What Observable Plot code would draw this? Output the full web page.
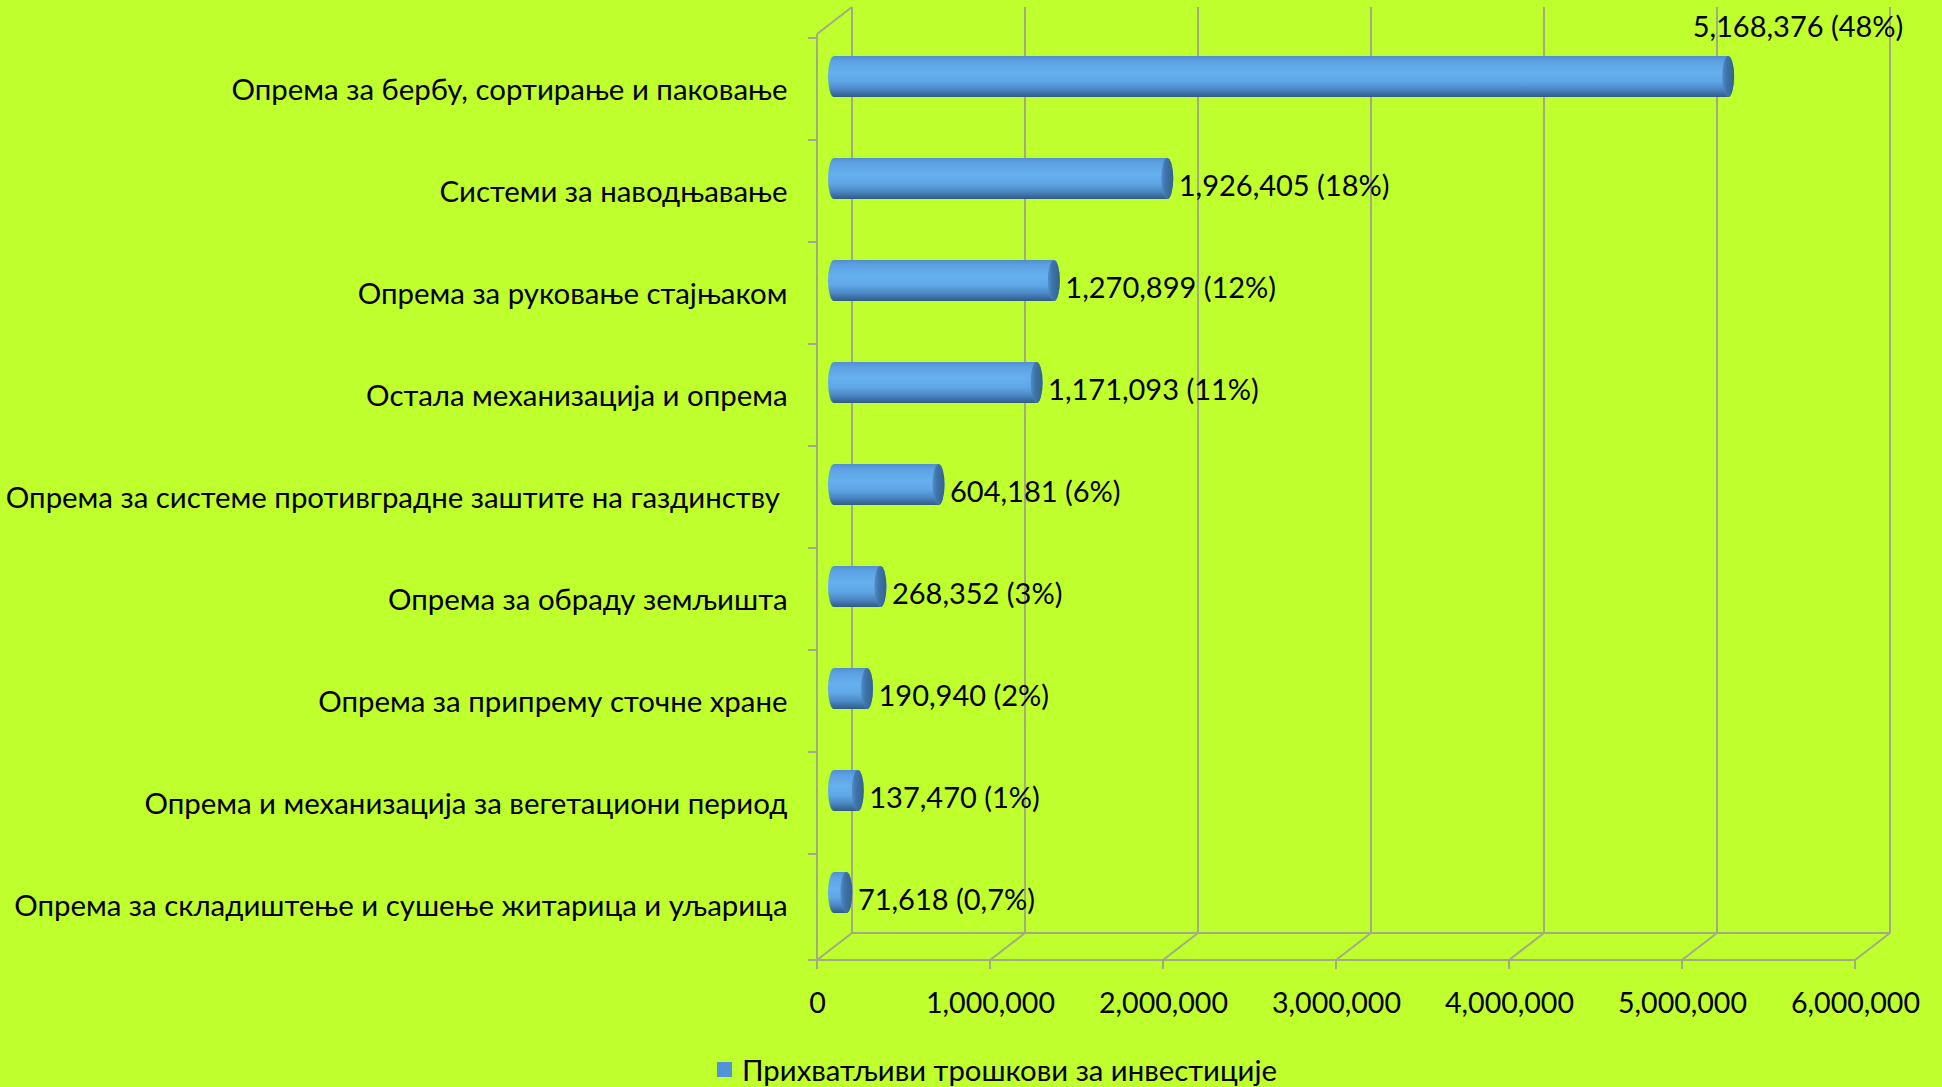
<!DOCTYPE html>
<html>
<head>
<meta charset="utf-8">
<script src="https://cdn.jsdelivr.net/npm/d3@7"></script>
<script src="https://cdn.jsdelivr.net/npm/@observablehq/plot@0.6"></script>
<style>
  html, body { margin: 0; padding: 0; background: #c0ff2e; }
  #chart { width: 1942px; height: 1087px; background: #c0ff2e; font-family: Lato, "Open Sans", sans-serif; }
  #chart svg { display: block; }
  #legend { height: 47px; display: flex; align-items: center; justify-content: center; font-size: 29.3px; color: #000; padding-left: 52px; padding-top: 12px; box-sizing: border-box; }
  #legend .sw { width: 15px; height: 15px; background: #4f94d8; margin-right: 10px; }
</style>
</head>
<body>
<div id="chart"></div>
<script>
const categories = [
  "Опрема за бербу, сортирање и паковање",
  "Системи за наводњавање",
  "Опрема за руковање стајњаком",
  "Остала механизација и опрема",
  "Опрема за системе противградне заштите на газдинству\u00a0",
  "Опрема за обраду земљишта",
  "Опрема за припрему сточне хране",
  "Опрема и механизација за вегетациони период",
  "Опрема за складиштење и сушење житарица и уљарица"
];
const values = [5168376, 1926405, 1270899, 1171093, 604181, 268352, 190940, 137470, 71618];
const shares = ["48%", "18%", "12%", "11%", "6%", "3%", "2%", "1%", "0,7%"];
const xTicks = [0, 1000000, 2000000, 3000000, 4000000, 5000000, 6000000];
const seriesName = "Прихватљиви трошкови за инвестиције";

const data = categories.map((c, i) => ({
  category: c,
  value: values[i],
  label: d3.format(",")(values[i]) + " (" + shares[i] + ")"
}));

const W = 1942, H = 1040;
const mLeft = 817, mRight = W - 1855, mTop = 34, mBottom = H - 960;
const DX = 35, DY = -27;      // depth of the 3D box
const BX = 17, BY = -12.5;    // bars sit half way into the box
const barH = 42;
const gridColor = "#a0ab86";

const defs = () => {
  const g = d3.create("svg:defs");
  const body = g.append("linearGradient").attr("id", "barBody").attr("x1", 0).attr("y1", 0).attr("x2", 0).attr("y2", 1);
  [[0, "#4f8fcf"], [0.12, "#5ca1e2"], [0.4, "#66b0f0"], [0.62, "#5fa6e6"], [0.82, "#4a86c2"], [1, "#2f5a85"]]
    .forEach(([o, c]) => body.append("stop").attr("offset", o).attr("stop-color", c));
  const cap = g.append("linearGradient").attr("id", "barCap").attr("x1", 0).attr("y1", 0).attr("x2", 1).attr("y2", 0);
  [[0, "#4f8fcb"], [0.35, "#3f75aa"], [1, "#34628f"]]
    .forEach(([o, c]) => cap.append("stop").attr("offset", o).attr("stop-color", c));
  return g.node();
};

const frame = (index, scales, values, dim) => {
  const x = scales.x, y = scales.y;
  const g = d3.create("svg:g").attr("stroke", gridColor).attr("stroke-width", 2).attr("fill", "none");
  const y0 = dim.marginTop, y1 = dim.height - dim.marginBottom;
  const x0 = x(0), xEnd = x(xTicks[xTicks.length - 1]);
  for (const t of xTicks) {
    const xt = x(t);
    g.append("line").attr("x1", xt + DX).attr("x2", xt + DX).attr("y1", y0 + DY).attr("y2", y1 + DY);
    g.append("line").attr("x1", xt).attr("x2", xt + DX).attr("y1", y1).attr("y2", y1 + DY);
    g.append("line").attr("x1", xt).attr("x2", xt).attr("y1", y1).attr("y2", y1 + 9);
  }
  g.append("line").attr("x1", x0).attr("x2", xEnd).attr("y1", y1).attr("y2", y1);
  g.append("line").attr("x1", x0 + DX).attr("x2", xEnd + DX).attr("y1", y1 + DY).attr("y2", y1 + DY);
  g.append("line").attr("x1", x0).attr("x2", x0).attr("y1", y0).attr("y2", y1);
  g.append("line").attr("x1", x0).attr("x2", x0 + DX).attr("y1", y0).attr("y2", y0 + DY);
  const bounds = categories.map(c => y(c)).concat([y1]);
  for (const b of bounds) g.append("line").attr("x1", x0 - 9).attr("x2", x0).attr("y1", b).attr("y2", b);
  return g.node();
};

const inset = (H - mTop - mBottom) / categories.length / 2 - barH / 2;

const chart = Plot.plot({
  width: W,
  height: H,
  marginLeft: mLeft,
  marginRight: mRight,
  marginTop: mTop,
  marginBottom: mBottom,
  style: { background: "#c0ff2e", fontFamily: "Lato, 'Open Sans', sans-serif", fontSize: "29px", color: "#000" },
  x: { domain: [0, 6000000], ticks: xTicks, tickFormat: d3.format(","), label: null },
  y: { domain: categories, padding: 0, label: null },
  marks: [
    defs,
    frame,
    Plot.axisX({ ticks: xTicks, tickFormat: d3.format(","), tickSize: 0, tickPadding: 32, fontSize: 28.6, fill: "#000", label: null }),
    Plot.axisY({ tickSize: 0, tickPadding: 30, fontSize: 29.4, fill: "#000", textAnchor: "end", dy: 1, label: null }),
    Plot.barX(data, {
      x1: () => 0, x2: "value", y: "category",
      insetTop: inset, insetBottom: inset, insetLeft: -6, insetRight: -6,
      dx: BX, dy: BY, rx: 6, ry: barH / 2, fill: "url(#barBody)"
    }),
    Plot.barX(data, {
      x1: "value", x2: "value", y: "category",
      insetTop: inset, insetBottom: inset, insetLeft: -6, insetRight: -6,
      dx: BX, dy: BY, rx: 6, ry: barH / 2, fill: "url(#barCap)"
    }),
    Plot.text(data, {
      filter: (d, i) => i > 0,
      x: "value", y: "category", text: "label",
      textAnchor: "start", dx: 28, dy: -5, fontSize: 29, fill: "#000"
    }),
    Plot.text(data, {
      filter: (d, i) => i === 0,
      x: "value", y: "category", text: "label",
      textAnchor: "start", dx: -19, dy: -62, fontSize: 29, fill: "#000"
    })
  ]
});

const root = document.getElementById("chart");
root.appendChild(chart);
const legend = document.createElement("div");
legend.id = "legend";
legend.innerHTML = '<span class="sw"></span><span></span>';
legend.lastChild.textContent = seriesName;
root.appendChild(legend);
</script>
</body>
</html>
